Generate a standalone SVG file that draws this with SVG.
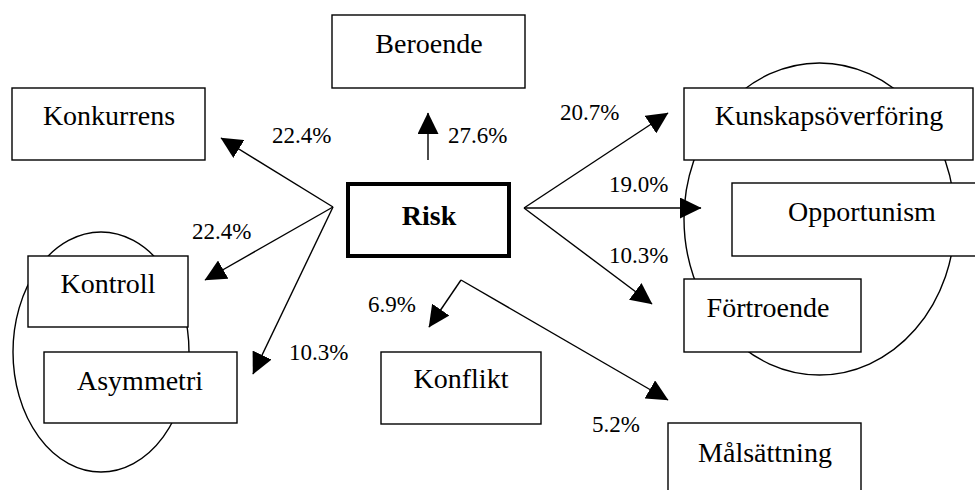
<svg xmlns="http://www.w3.org/2000/svg" width="975" height="490" viewBox="0 0 975 490">
<style>
.box{fill:#fff;stroke:#000;stroke-width:1.4}
.ell{fill:none;stroke:#000;stroke-width:1.4}
text{font-family:'Liberation Serif','DejaVu Serif','Times New Roman',serif;fill:#000}
.lbl{font-size:28px;text-anchor:middle}
.pct{font-size:23px}
.con line{stroke:#000;stroke-width:1.4;marker-end:url(#ah)}
</style>
<defs>
<marker id="ah" markerUnits="userSpaceOnUse" markerWidth="22" markerHeight="21" refX="21" refY="10.5" orient="auto">
<path d="M0,0 L21.5,10.5 L0,21 Z" fill="#000"/>
</marker>
</defs>
<rect width="975" height="490" fill="#fff"/>
<ellipse class="ell" cx="101" cy="352" rx="88" ry="120"/>
<ellipse class="ell" cx="819.5" cy="219" rx="135.5" ry="156"/>
<g id="beroende"><rect class="box" x="332" y="15" width="193" height="73"/><text class="lbl" x="429" y="53" font-family="Liberation Serif, serif">Beroende</text></g>
<g id="konkurrens"><rect class="box" x="12" y="88" width="193" height="72"/><text class="lbl" x="109" y="125" font-family="Liberation Serif, serif">Konkurrens</text></g>
<g id="kontroll"><rect class="box" x="28" y="256" width="160" height="71"/><text class="lbl" x="108" y="293" font-family="Liberation Serif, serif">Kontroll</text></g>
<g id="asymmetri"><rect class="box" x="44" y="352" width="193" height="71"/><text class="lbl" x="140" y="390" font-family="Liberation Serif, serif">Asymmetri</text></g>
<g id="risk"><rect x="348" y="184" width="161" height="72" fill="#fff" stroke="#000" stroke-width="4"/><text class="lbl" x="429" y="225" font-weight="bold" font-family="Liberation Serif, serif">Risk</text></g>
<g id="kunskapsoverforing"><rect class="box" x="684" y="88" width="289" height="72"/><text class="lbl" x="829" y="125" font-family="Liberation Serif, serif">Kunskapsöverföring</text></g>
<g id="opportunism"><rect class="box" x="732" y="183" width="260" height="73"/><text class="lbl" x="862" y="221" font-family="Liberation Serif, serif">Opportunism</text></g>
<g id="fortroende"><rect class="box" x="684" y="279" width="177" height="73"/><text class="lbl" x="768" y="317" font-family="Liberation Serif, serif">Förtroende</text></g>
<g id="konflikt"><rect class="box" x="381" y="352" width="160" height="72"/><text class="lbl" x="461" y="388" font-family="Liberation Serif, serif">Konflikt</text></g>
<g id="malsattning"><rect class="box" x="668" y="423" width="193" height="80"/><text class="lbl" x="765" y="462" font-family="Liberation Serif, serif">Målsättning</text></g>
<g id="connectors" class="con">
<line x1="428" y1="160" x2="428" y2="113"/>
<line x1="333" y1="207" x2="221" y2="138"/>
<line x1="333" y1="207" x2="205" y2="280"/>
<line x1="333" y1="207" x2="253" y2="374"/>
<line x1="524" y1="208" x2="668" y2="113"/>
<line x1="524" y1="208" x2="701" y2="208"/>
<line x1="524" y1="208" x2="652" y2="304"/>
<line x1="461" y1="280" x2="429" y2="327"/>
<line x1="461" y1="280" x2="668" y2="400"/>
</g>
<g id="labels">
<text class="pct" x="272" y="143">22.4%</text>
<text class="pct" x="192" y="239">22.4%</text>
<text class="pct" x="289" y="360">10.3%</text>
<text class="pct" x="448" y="143">27.6%</text>
<text class="pct" x="560" y="120">20.7%</text>
<text class="pct" x="609" y="192">19.0%</text>
<text class="pct" x="609" y="263">10.3%</text>
<text class="pct" x="368" y="312">6.9%</text>
<text class="pct" x="592" y="432">5.2%</text>
</g>
</svg>
